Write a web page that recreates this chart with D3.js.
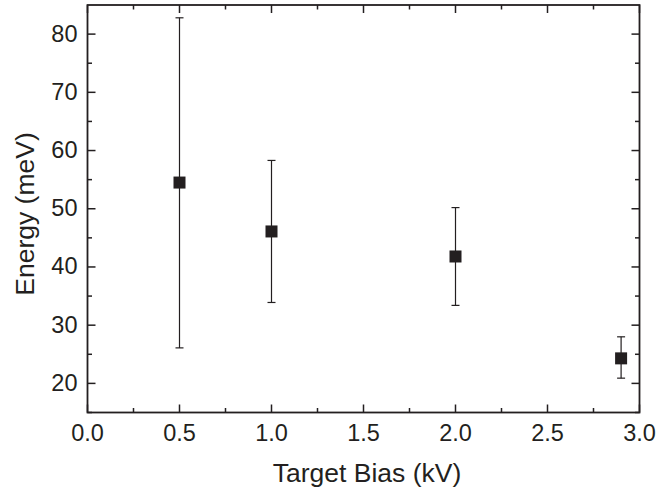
<!DOCTYPE html>
<html lang="en">
<head>
	<meta charset="UTF-8">
	<title> Energy vs Target Bias </title>
	<style>
		body { margin: 0; background: #fff; }
		text { font-family: "Liberation Sans", Arial, sans-serif; fill: #231f20; }
	</style>
</head>
<body>
	<div id="d3-content"></div>

  <script src="https://cdnjs.cloudflare.com/ajax/libs/d3/7.8.5/d3.min.js"></script>

  <script type="text/javascript">

		// data
		var bias = [0.5, 1.0, 2.0, 2.9];
		var energy = [54.5, 46.1, 41.8, 24.3];
		var errTop = [82.8, 58.3, 50.2, 28.0];
		var errBottom = [26.1, 33.9, 33.4, 20.9];

		var xTicks = [0.0, 0.5, 1.0, 1.5, 2.0, 2.5, 3.0];
		var yTicks = [20, 30, 40, 50, 60, 70, 80];

		var width = 672;
		var height = 490;
		var margin = { left: 87.5, right: 32.5, top: 5, bottom: 77.5 };
		var ink = '#231f20';

		var svg = d3.select('#d3-content')
			.append('svg')
			.attr('width', width)
			.attr('height', height);

		var x = d3.scaleLinear()
			.domain([0, 3])
			.range([margin.left, width - margin.right]);

		var y = d3.scaleLinear()
			.domain([15, 85])
			.range([height - margin.bottom, margin.top]);

		var x0 = x.range()[0], x1 = x.range()[1];
		var y0 = y.range()[0], y1 = y.range()[1];

		var g = svg.append('g');

		// minor tick positions
		var xMinor = d3.range(0.25, 3, 0.5);
		var yMinor = d3.range(15, 85, 10);

		// ticks point inwards on all four sides
		function ticks(vals, len, w) {
			vals.forEach(function (v) {
				g.append('line').attr('x1', x(v)).attr('x2', x(v))
					.attr('y1', y0).attr('y2', y0 - len)
					.attr('stroke', ink).attr('stroke-width', w);
				g.append('line').attr('x1', x(v)).attr('x2', x(v))
					.attr('y1', y1).attr('y2', y1 + len)
					.attr('stroke', ink).attr('stroke-width', w);
			});
		}
		function yticks(vals, len, w) {
			vals.forEach(function (v) {
				g.append('line').attr('y1', y(v)).attr('y2', y(v))
					.attr('x1', x0).attr('x2', x0 + len)
					.attr('stroke', ink).attr('stroke-width', w);
				g.append('line').attr('y1', y(v)).attr('y2', y(v))
					.attr('x1', x1).attr('x2', x1 - len)
					.attr('stroke', ink).attr('stroke-width', w);
			});
		}
		ticks(xTicks, 8, 1.5);
		ticks(xMinor, 4.5, 1.5);
		yticks(yTicks, 8, 1.5);
		yticks(yMinor, 4.5, 1.5);

		// frame
		g.append('rect')
			.attr('x', x0).attr('y', y1)
			.attr('width', x1 - x0).attr('height', y0 - y1)
			.attr('fill', 'none')
			.attr('stroke', ink)
			.attr('stroke-width', 1.8);

		// tick labels
		g.selectAll('.xl')
			.data(xTicks)
			.enter()
			.append('text')
			.attr('x', function (d) { return x(d); })
			.attr('y', y0 + 28.5)
			.attr('text-anchor', 'middle')
			.attr('font-size', 23.5)
			.text(function (d) { return d3.format('.1f')(d); });

		g.selectAll('.yl')
			.data(yTicks)
			.enter()
			.append('text')
			.attr('x', x0 - 10)
			.attr('y', function (d) { return y(d) + 7.5; })
			.attr('text-anchor', 'end')
			.attr('font-size', 23.5)
			.text(function (d) { return d; });

		// axis titles
		svg.append('text')
			.attr('x', 367)
			.attr('y', 482)
			.attr('text-anchor', 'middle')
			.attr('font-size', 26.5)
			.text('Target Bias (kV)');

		svg.append('text')
			.attr('transform', 'translate(34,214) rotate(-90)')
			.attr('text-anchor', 'middle')
			.attr('font-size', 26.5)
			.text('Energy (meV)');

		// error bars
		var idx = d3.range(bias.length);
		var cap = 4;

		g.selectAll('.err')
			.data(idx)
			.enter()
			.append('line')
			.attr('x1', function (i) { return x(bias[i]); })
			.attr('x2', function (i) { return x(bias[i]); })
			.attr('y1', function (i) { return y(errTop[i]); })
			.attr('y2', function (i) { return y(errBottom[i]); })
			.attr('stroke', ink)
			.attr('stroke-width', 1.2);

		[errTop, errBottom].forEach(function (arr) {
			g.selectAll(null)
				.data(idx)
				.enter()
				.append('line')
				.attr('x1', function (i) { return x(bias[i]) - cap; })
				.attr('x2', function (i) { return x(bias[i]) + cap; })
				.attr('y1', function (i) { return y(arr[i]); })
				.attr('y2', function (i) { return y(arr[i]); })
				.attr('stroke', ink)
				.attr('stroke-width', 1.2);
		});

		// square markers
		var s = 12;
		g.selectAll('.pt')
			.data(idx)
			.enter()
			.append('rect')
			.attr('x', function (i) { return x(bias[i]) - s / 2; })
			.attr('y', function (i) { return y(energy[i]) - s / 2; })
			.attr('width', s)
			.attr('height', s)
			.attr('fill', ink);

  </script>
</body>
</html>
